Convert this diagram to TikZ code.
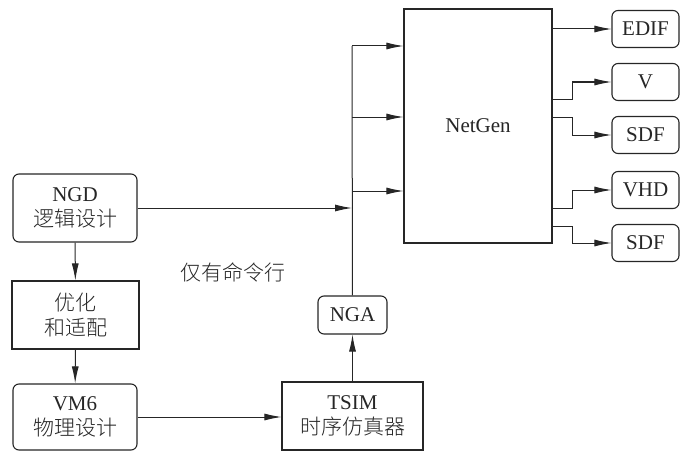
\documentclass[tikz,border=0pt]{standalone}
\usepackage{fontspec}
\setmainfont{Liberation Serif}
\newfontfamily\cjk{Noto Sans CJK SC Light}
\usetikzlibrary{arrows.meta,positioning,calc}
\tikzset{
  >={Latex[length=17pt,width=7pt]},
  box/.style={draw=black!85,line width=1.1pt,inner sep=0pt,align=center,fill=white,text=black!85,font=\fontsize{21}{25}\selectfont},
  rbox/.style={box,rounded corners=6pt},
  obox/.style={rbox,minimum width=67pt,minimum height=37pt},
  arr/.style={->,draw=black!85,line width=1pt},
  wire/.style={draw=black!85,line width=1pt},
}
\begin{document}
\begin{tikzpicture}[x=1pt,y=-1pt]
\useasboundingbox (0,0) rectangle (680,452);
% left column
\node[rbox,minimum width=124pt,minimum height=68pt] (ngd) at (75,208) {NGD\\{\cjk 逻辑设计}};
\node[box,minimum width=127pt,minimum height=68pt] (opt) at (75.5,315) {{\cjk 优化}\\{\cjk 和适配}};
\node[rbox,minimum width=124pt,minimum height=66pt] (vm6) at (75,417) {VM6\\{\cjk 物理设计}};
\node[box,minimum width=141pt,minimum height=68pt] (tsim) at (352.5,416) {TSIM\\{\cjk 时序仿真器}};
\node[rbox,minimum width=69pt,minimum height=38pt] (nga) at (352.5,315) {NGA};
\node[font=\fontsize{21}{25}\selectfont\cjk,text=black!85] (cmd) at (233,272) {仅有命令行};
% netgen and outputs
\node[box,minimum width=148pt,minimum height=234pt] (netgen) at (478,126) {NetGen};
\node[obox] (edif) at (645.5,29) {EDIF};
\node[obox] (v) at (645.5,82) {V};
\node[obox] (sdfa) at (645.5,135) {SDF};
\node[obox] (vhd) at (645.5,190) {VHD};
\node[obox] (sdfb) at (645.5,243) {SDF};
% bus
\coordinate (b1) at (352,46);
\coordinate (b2) at (352,117);
\coordinate (b3) at (352,191);
\coordinate (b4) at (352,208);
\draw[wire] (nga) -- (b1);
\foreach \b in {b1,b2,b3} \draw[arr] (\b) -- (\b -| netgen.west);
\draw[arr] (ngd) -- (b4);
\draw[arr] (ngd) -- (opt);
\draw[arr] (opt) -- (vm6);
\draw[arr] (vm6) -- (vm6 -| tsim.west);
\draw[arr] (tsim) -- (nga);
% outputs
\coordinate (o2) at (552,99);
\coordinate (o3) at (552,117);
\coordinate (o4) at (552,208);
\coordinate (o5) at (552,226);
\draw[arr] (netgen.east |- edif) -- (edif);
\draw[arr] (o2) -- ++(20,0) |- (v);
\draw[arr] (o3) -- ++(20,0) |- (sdfa);
\draw[arr] (o4) -- ++(20,0) |- (vhd);
\draw[arr] (o5) -- ++(20,0) |- (sdfb);
\end{tikzpicture}
\end{document}
